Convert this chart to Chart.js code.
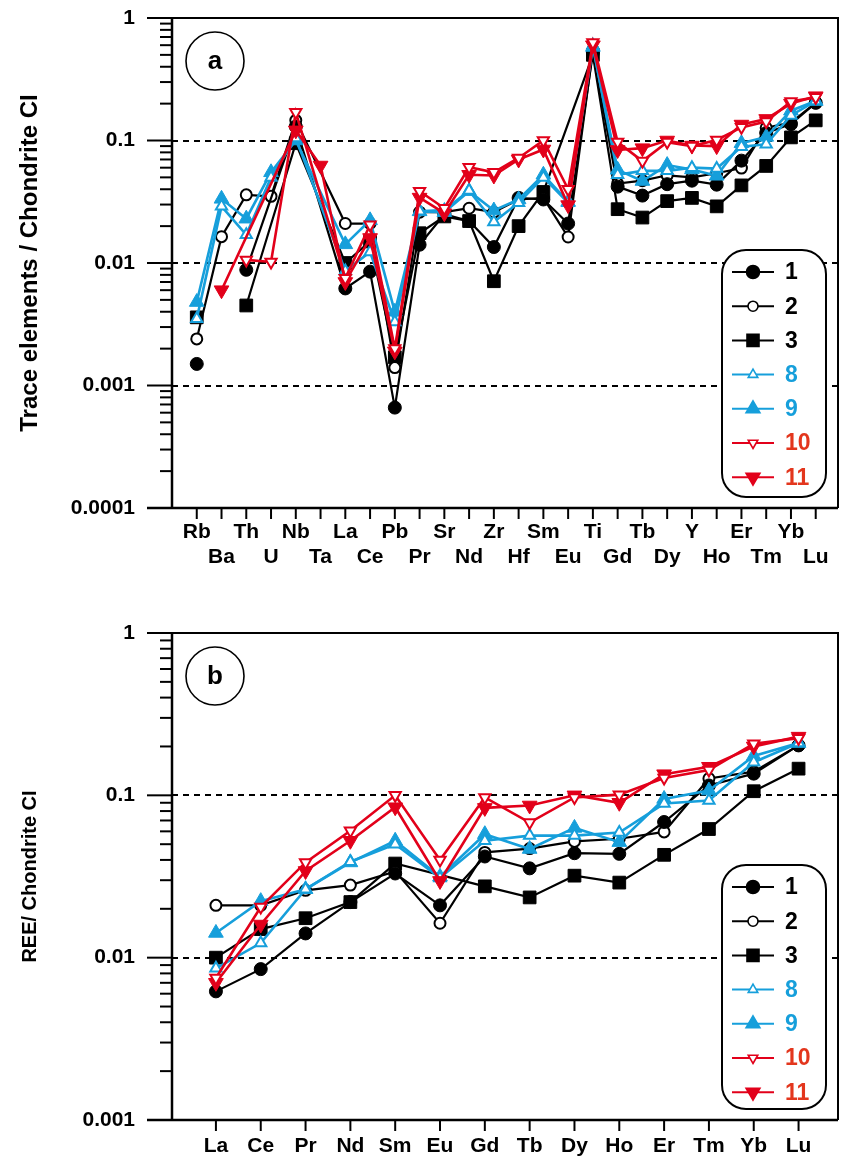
<!DOCTYPE html>
<html>
<head>
<meta charset="utf-8">
<script src="https://cdn.jsdelivr.net/npm/chart.js@4.4.1/dist/chart.umd.min.js"></script>
<style>
  html, body { margin: 0; padding: 0; background: #fff; }
  #wrap { position: relative; width: 841px; height: 1167px; }
  canvas { position: absolute; left: 0; }
</style>
</head>
<body>
<div id="wrap">
  <canvas id="chartA" width="841" height="590" style="top:0"></canvas>
  <canvas id="chartB" width="841" height="577" style="top:590px"></canvas>
</div>
<script>
// Alkuaineet (ylempi kuva a) ja REE (alempi kuva b)
const elementsA = ['Rb','Ba','Th','U','Nb','Ta','La','Ce','Pb','Pr','Sr','Nd','Zr','Hf','Sm','Eu','Ti','Gd','Tb','Dy','Y','Ho','Er','Tm','Yb','Lu'];
const elementsB = ['La','Ce','Pr','Nd','Sm','Eu','Gd','Tb','Dy','Ho','Er','Tm','Yb','Lu'];

// Näytteiden arvot / kondriitti CI (null = ei arvoa)
const sample1  = [0.0015, null, 0.0088, null, 0.13, null, 0.0062, 0.0085, 0.00066, 0.0141, 0.025, 0.022, 0.0135, 0.034, 0.033, 0.021, 0.52, 0.042, 0.0355, 0.044, 0.047, 0.0436, 0.0685, 0.115, 0.136, 0.203];
const sample2  = [0.0024, 0.0164, 0.036, 0.035, 0.146, null, 0.021, 0.021, 0.0014, 0.026, 0.026, 0.028, 0.026, 0.033, 0.034, 0.0163, 0.55, 0.0445, 0.047, 0.052, 0.050, 0.054, 0.0595, 0.127, 0.14, 0.203];
const sample3  = [0.0036, null, 0.0045, null, 0.095, null, 0.010, 0.015, 0.0017, 0.0175, 0.024, 0.022, 0.0071, 0.020, 0.038, null, 0.50, 0.0275, 0.0235, 0.032, 0.034, 0.029, 0.043, 0.062, 0.106, 0.146];
const sample8  = [0.0035, 0.029, 0.017, 0.050, 0.105, null, 0.0086, 0.0123, 0.0033, 0.0264, 0.027, 0.039, 0.0216, 0.031, 0.050, 0.031, 0.60, 0.0525, 0.0565, 0.0565, 0.060, 0.059, 0.089, 0.093, 0.16, 0.21];
const sample9  = [0.0048, 0.0334, 0.023, 0.055, 0.10, null, 0.0142, 0.0223, 0.0040, 0.0264, 0.026, 0.0386, 0.0268, 0.033, 0.0525, 0.0315, 0.58, 0.0576, 0.0467, 0.063, 0.058, 0.0515, 0.095, 0.107, 0.175, 0.21];
const sample10 = [null, null, 0.0106, 0.0102, 0.17, null, 0.0075, 0.0205, 0.0020, 0.0386, 0.028, 0.0605, 0.055, 0.072, 0.100, 0.040, 0.63, 0.097, 0.068, 0.097, 0.090, 0.101, 0.128, 0.143, 0.208, 0.225];
const sample11 = [null, 0.0060, null, null, 0.121, 0.0625, 0.0070, 0.0160, 0.0019, 0.0342, 0.0255, 0.0525, 0.0518, 0.070, 0.0845, 0.0297, 0.60, 0.0837, 0.0866, 0.100, 0.091, 0.090, 0.135, 0.150, 0.200, 0.230];

const sampleNames = ['1', '2', '3', '8', '9', '10', '11'];
const sampleValues = [sample1, sample2, sample3, sample8, sample9, sample10, sample11];

// Pisteet joita ei yhdistetä viivalla (kuvassa a)
const isolatedA = { '1': ['Rb', 'Th'], '3': ['Rb', 'Th'] };

// Y-akselin tikit
const yTicksA = [1, 0.1, 0.01, 0.001, 0.0001];
const yLabelsA = ['1', '0.1', '0.01', '0.001', '0.0001'];
const yTicksB = [1, 0.1, 0.01, 0.001];
const yLabelsB = ['1', '0.1', '0.01', '0.001'];

const blue = '#169fdb';
const red = '#e2001a';
const fontFam = "'Liberation Sans', Arial, sans-serif";

// Tyylit sarjoittain
const styles = {
  '1':  { color: '#000', shape: 'circle', fill: true,  r: 6.5, rot: 0,   lw: 2.2, text: '#000', order: 3 },
  '2':  { color: '#000', shape: 'circle', fill: false, r: 5.5, rot: 0,   lw: 2.2, text: '#000', order: 3 },
  '3':  { color: '#000', shape: 'rect',   fill: true,  r: 9,   rot: 0,   lw: 2.2, text: '#000', order: 3 },
  '8':  { color: blue,   shape: 'triangle', fill: false, r: 6.5, rot: 0, lw: 2.6, text: blue, order: 2 },
  '9':  { color: blue,   shape: 'triangle', fill: true,  r: 8.5, rot: 0, lw: 2.6, text: blue, order: 2 },
  '10': { color: red,    shape: 'triangle', fill: false, r: 6.5, rot: 180, lw: 2.6, text: '#e3361d', order: 1 },
  '11': { color: red,    shape: 'triangle', fill: true,  r: 8.5, rot: 180, lw: 2.6, text: '#e3361d', order: 1 }
};

function buildDatasets(elements, isolated) {
  return sampleNames.map((name, k) => {
    const st = styles[name];
    const data = elements.map((el, i) => ({ x: i, y: sampleValues[k][elementsA.indexOf(el)] }));
    const iso = (isolated[name] || []).map(el => elements.indexOf(el));
    return {
      label: name,
      data: data,
      order: st.order,
      spanGaps: true,
      borderColor: st.color,
      borderWidth: st.lw,
      segment: {
        borderColor: c => (iso.includes(c.p0DataIndex) || iso.includes(c.p1DataIndex)) ? 'rgba(0,0,0,0)' : st.color
      },
      pointStyle: st.shape,
      pointRotation: st.rot,
      pointRadius: st.r,
      pointBackgroundColor: st.fill ? st.color : '#fff',
      pointBorderColor: st.color,
      pointBorderWidth: st.fill ? 1 : 2,
      tension: 0
    };
  });
}

function legendMarker(ctx, shape, rot, x, y, r, filled, color) {
  ctx.beginPath();
  if (shape === 'circle') {
    ctx.arc(x, y, r, 0, 2 * Math.PI);
  } else if (shape === 'rect') {
    ctx.rect(x - r, y - r, 2 * r, 2 * r);
  } else {
    const d = rot === 180 ? -1 : 1;
    ctx.moveTo(x, y - d * r);
    ctx.lineTo(x + r * 0.866, y + d * r * 0.5);
    ctx.lineTo(x - r * 0.866, y + d * r * 0.5);
    ctx.closePath();
  }
  ctx.fillStyle = filled ? color : '#fff';
  ctx.fill();
  ctx.strokeStyle = color;
  ctx.lineWidth = 1.6;
  ctx.stroke();
}

function roundBox(ctx, x, y, w, h, r) {
  ctx.beginPath();
  ctx.moveTo(x + r, y);
  ctx.arcTo(x + w, y, x + w, y + h, r);
  ctx.arcTo(x + w, y + h, x, y + h, r);
  ctx.arcTo(x, y + h, x, y, r);
  ctx.arcTo(x, y, x + w, y, r);
  ctx.closePath();
}

// Akselit, katkoviivat, kehys, selite ja paneelin kirjain
function framePlugin(panel, legendTop, legendH, yTicks, circleY) {
  return {
    id: 'frame' + panel,
    beforeDatasetsDraw(chart) {
      const ctx = chart.ctx;
      const ca = chart.chartArea;
      const ys = chart.scales.y, xs = chart.scales.x;
      ctx.save();
      ctx.strokeStyle = '#000';
      // katkoviivat vuosikymmenille
      ctx.setLineDash([6, 5]);
      ctx.lineWidth = 2;
      yTicks.slice(1, -1).forEach(v => {
        const py = Math.round(ys.getPixelForValue(v));
        ctx.beginPath(); ctx.moveTo(ca.left, py); ctx.lineTo(ca.right, py); ctx.stroke();
      });
      ctx.setLineDash([]);
      // kehys ylä- ja oikealla
      ctx.lineWidth = 2;
      ctx.beginPath();
      ctx.moveTo(ca.left, ca.top); ctx.lineTo(ca.right, ca.top); ctx.lineTo(ca.right, ca.bottom);
      ctx.stroke();
      // akselit
      ctx.lineWidth = 2.5;
      ctx.beginPath();
      ctx.moveTo(ca.left, ca.top); ctx.lineTo(ca.left, ca.bottom);
      ctx.moveTo(ca.left - 25, ca.bottom); ctx.lineTo(ca.right, ca.bottom);
      ctx.stroke();
      // y-tikit
      ctx.lineWidth = 2;
      const lo = Math.round(Math.log10(ys.min)), hi = Math.round(Math.log10(ys.max));
      for (let e = lo; e <= hi; e++) {
        const py = ys.getPixelForValue(Math.pow(10, e));
        ctx.beginPath(); ctx.moveTo(ca.left - 25, py); ctx.lineTo(ca.left, py); ctx.stroke();
        if (e < hi) {
          for (let m = 2; m <= 9; m++) {
            const pm = ys.getPixelForValue(m * Math.pow(10, e));
            ctx.beginPath(); ctx.moveTo(ca.left - 12, pm); ctx.lineTo(ca.left, pm); ctx.stroke();
          }
        }
      }
      // x-tikit
      xs.ticks.forEach(t => {
        const px = xs.getPixelForValue(t.value);
        ctx.beginPath(); ctx.moveTo(px, ca.bottom); ctx.lineTo(px, ca.bottom + 11); ctx.stroke();
      });
      ctx.restore();
    },
    afterDraw(chart) {
      const ctx = chart.ctx;
      ctx.save();
      // paneelin kirjain ympyrässä
      ctx.strokeStyle = '#000';
      ctx.lineWidth = 1.6;
      ctx.beginPath(); ctx.arc(215, circleY, 29, 0, 2 * Math.PI); ctx.stroke();
      ctx.fillStyle = '#000';
      ctx.font = 'bold 26px ' + fontFam;
      ctx.textAlign = 'center'; ctx.textBaseline = 'middle';
      ctx.fillText(panel, 215, circleY + 1);
      // selite
      const bx = 722, bw = 104;
      roundBox(ctx, bx, legendTop, bw, legendH, 24);
      ctx.fillStyle = '#fff'; ctx.fill();
      ctx.lineWidth = 2; ctx.strokeStyle = '#000'; ctx.stroke();
      ctx.textAlign = 'left';
      ctx.font = 'bold 23px ' + fontFam;
      sampleNames.forEach((name, i) => {
        const st = styles[name];
        const yy = legendTop + 22 + i * 34.2;
        ctx.strokeStyle = st.color; ctx.lineWidth = 2;
        ctx.beginPath(); ctx.moveTo(bx + 10, yy); ctx.lineTo(bx + 52, yy); ctx.stroke();
        const rr = st.fill ? (st.shape === 'rect' ? 6 : (st.shape === 'circle' ? 6.5 : 8)) : (st.shape === 'circle' ? 5 : 5.5);
        legendMarker(ctx, st.shape, st.rot, bx + 31, yy, rr, st.fill, st.color);
        ctx.fillStyle = st.text;
        ctx.fillText(name, bx + 63, yy + 1);
      });
      ctx.restore();
    }
  };
}

function makeChart(id, elements, isolated, opts) {
  return new Chart(document.getElementById(id), {
    type: 'line',
    data: { datasets: buildDatasets(elements, isolated) },
    options: {
      responsive: false,
      animation: false,
      events: [],
      layout: { autoPadding: false, padding: { top: opts.padTop, right: 3, left: 0, bottom: 0 } },
      plugins: { legend: { display: false }, tooltip: { enabled: false } },
      scales: {
        x: {
          type: 'linear',
          min: opts.xMin,
          max: opts.xMax,
          afterBuildTicks: s => { s.ticks = elements.map((e, i) => ({ value: i })); },
          afterFit: s => { s.height = opts.xHeight; s.paddingLeft = 0; s.paddingRight = 0; },
          grid: { display: false, drawTicks: false },
          border: { display: false },
          ticks: {
            autoSkip: false, maxRotation: 0, minRotation: 0,
            padding: opts.xPad,
            color: '#000',
            font: { family: fontFam, size: 21, weight: 'bold', lineHeight: 1.2 },
            callback: (v, i) => opts.twoRows ? (i % 2 === 0 ? [elements[i], ''] : ['', elements[i]]) : elements[i]
          }
        },
        y: {
          type: 'logarithmic',
          min: opts.yTicks[opts.yTicks.length - 1],
          max: opts.yTicks[0],
          afterBuildTicks: s => { s.ticks = opts.yTicks.map(v => ({ value: v })); },
          afterFit: s => { s.width = 172; s.paddingTop = 0; s.paddingBottom = 0; },
          grid: { display: false, drawTicks: false },
          border: { display: false },
          ticks: {
            padding: 37,
            color: '#000',
            font: { family: fontFam, size: 21, weight: 'bold' },
            callback: (v, i) => opts.yLabels[i]
          },
          title: {
            display: true,
            text: opts.yTitle,
            color: '#000',
            font: { family: fontFam, size: opts.titleSize, weight: 'bold', lineHeight: 1.2 },
            padding: { top: 30 - opts.titleSize * 0.6, bottom: 0 }
          }
        }
      }
    },
    plugins: [framePlugin(opts.panel, opts.legendTop, opts.legendH, opts.yTicks, opts.circleY)]
  });
}

makeChart('chartA', elementsA, isolatedA, {
  padTop: 18, xMin: -1.0, xMax: 25.9, xHeight: 82, xPad: 11.5, twoRows: true,
  yTicks: yTicksA, yLabels: yLabelsA, yTitle: 'Trace elements / Chondrite CI', titleSize: 24,
  panel: 'a', legendTop: 250, legendH: 247, circleY: 61
});

makeChart('chartB', elementsB, {}, {
  padTop: 43, xMin: -0.98, xMax: 13.88, xHeight: 47, xPad: 14, twoRows: false,
  yTicks: yTicksB, yLabels: yLabelsB, yTitle: 'REE/ Chondrite CI', titleSize: 20,
  panel: 'b', legendTop: 275, legendH: 244, circleY: 86
});
</script>
</body>
</html>
